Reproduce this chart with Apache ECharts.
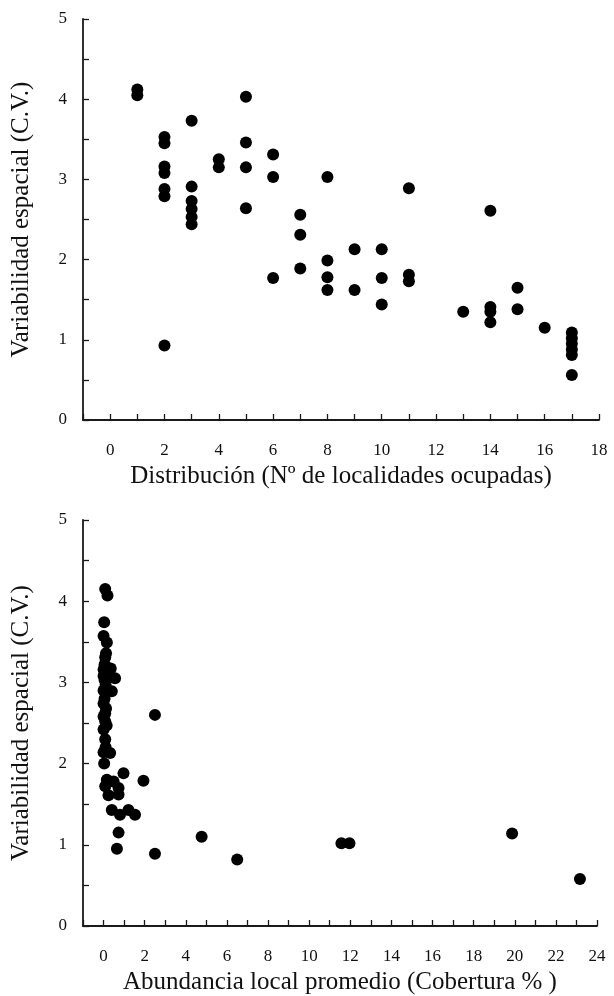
<!DOCTYPE html>
<html><head><meta charset="utf-8">
<script src="https://cdn.jsdelivr.net/npm/echarts@6/dist/echarts.min.js"></script>
<style>html,body{margin:0;padding:0;background:#fff}#c{width:614px;height:996px}</style>
</head><body><div id="c"></div>
<script>
// Top panel: distribution (number of localities occupied) vs spatial variability (C.V.)
const distX = [1,1, 2,2,2,2,2,2,2, 3,3,3,3,3,3, 4,4, 5,5,5,5, 6,6,6, 7,7,7, 8,8,8,8, 9,9, 10,10,10, 11,11,11, 13, 14,14,14,14, 15,15, 16, 17,17,17,17,17,17];
const distCV = [4.12,4.05, 3.53,3.45,3.16,3.08,2.88,2.79,0.93, 3.73,2.91,2.73,2.63,2.53,2.44, 3.25,3.15, 4.03,3.46,3.15,2.64, 3.31,3.03,1.77, 2.56,2.31,1.89, 3.03,1.99,1.78,1.62, 2.13,1.62, 2.13,1.77,1.44, 2.89,1.81,1.73, 1.35, 2.61,1.41,1.35,1.22, 1.65,1.38, 1.15, 1.09,1.02,0.95,0.88,0.81,0.56];
// Bottom panel: mean local abundance (cover %) vs spatial variability (C.V.)
const abundX = [0.08,0.19,0.03,0.0,0.16,0.12,0.08,0.05,0.0,0.35,0.2,0.15,0.56,0.0,0.05,0.1,0.0,0.4,0.05,0.0,0.12,0.08,0.0,0.15,0.08,0.0,0.08,2.5,0.1,0.0,0.32,0.03,0.97,1.94,0.16,0.49,0.08,0.73,0.24,0.73,0.4,0.8,1.21,1.53,0.73,0.65,2.5,4.77,6.5,11.57,11.96,19.87,23.17];
const abundCV = [4.15,4.07,3.74,3.57,3.49,3.36,3.31,3.22,3.16,3.17,3.18,3.12,3.05,3.08,3.03,2.97,2.90,2.89,2.80,2.74,2.68,2.62,2.58,2.47,2.52,2.42,2.30,2.60,2.20,2.14,2.13,2.00,1.88,1.79,1.80,1.78,1.72,1.70,1.61,1.62,1.43,1.37,1.43,1.37,1.15,0.95,0.89,1.10,0.82,1.02,1.02,1.14,0.58];

const yTitle = 'Variabilidad espacial (C.V.)';
const xTitle1 = 'Distribución (Nº de localidades ocupadas)';
const xTitle2 = 'Abundancia local promedio (Cobertura % )';

const FONT = 'Liberation Serif';
const axisCol = '#1a1a1a';

function xAxisCfg(idx, max, name){
  return {
    type:'value', gridIndex: idx, min:-1, max:max, interval:1,
    name:name, nameLocation:'middle', nameGap:44,
    nameTextStyle:{fontFamily:FONT, fontSize:25, color:'#111'},
    axisLine:{show:true, onZero:false, lineStyle:{color:axisCol, width:1.8}},
    axisTick:{show:true, inside:true, length:6, lineStyle:{color:axisCol, width:1.3}},
    axisLabel:{margin:22, fontFamily:FONT, fontSize:17, color:'#111',
      formatter:function(v){ return (v>=0 && v%2===0) ? String(v) : ''; }},
    splitLine:{show:false}
  };
}
function yAxisCfg(idx){
  return {
    type:'value', gridIndex: idx, min:0, max:5, interval:0.5,
    name:yTitle, nameLocation:'middle', nameGap:49, nameRotate:90,
    nameTextStyle:{fontFamily:FONT, fontSize:25, color:'#111'},
    axisLine:{show:true, onZero:false, lineStyle:{color:axisCol, width:1.8}},
    axisTick:{show:true, inside:true, length:6, lineStyle:{color:axisCol, width:1.3}},
    axisLabel:{margin:16, fontFamily:FONT, fontSize:17, color:'#111',
      formatter:function(v){ return Number.isInteger(v) ? String(v) : ''; }},
    splitLine:{show:false}
  };
}
function pairs(xs, ys){ return xs.map((x,i)=>[x, ys[i]]); }

const chart = echarts.init(document.getElementById('c'), null, {renderer:'canvas'});
chart.setOption({
  animation:false,
  backgroundColor:'#fff',
  grid:[
    {left:83, top:19, width:516, height:401},
    {left:83, top:520, width:514, height:406}
  ],
  xAxis:[ xAxisCfg(0, 18, xTitle1), xAxisCfg(1, 24, xTitle2) ],
  yAxis:[ yAxisCfg(0), yAxisCfg(1) ],
  series:[
    {type:'scatter', xAxisIndex:0, yAxisIndex:0, data:pairs(distX, distCV), symbolSize:12, itemStyle:{color:'#000', opacity:1}},
    {type:'scatter', xAxisIndex:1, yAxisIndex:1, data:pairs(abundX, abundCV), symbolSize:12, itemStyle:{color:'#000', opacity:1}}
  ]
});
</script></body></html>
